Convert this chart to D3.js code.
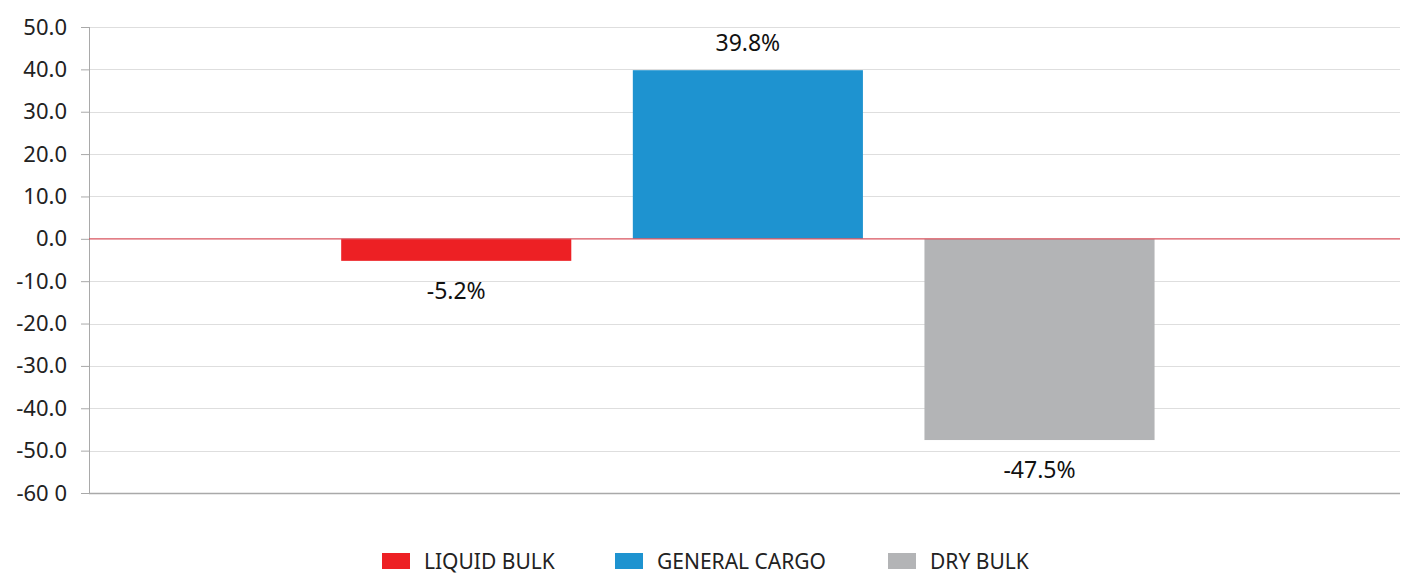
<!DOCTYPE html>
<html>
<head>
<meta charset="utf-8">
<script src="https://cdn.jsdelivr.net/npm/d3@7"></script>
<style>
	body { margin: 0; background: #fff; font-family: "Noto Sans", sans-serif; }
	svg { display: block; }
</style>
</head>
<body>
<div id="chart"></div>
<script>
	// Data
	var series = ["LIQUID BULK", "GENERAL CARGO", "DRY BULK"];
	var values = [-5.2, 39.8, -47.5];
	var colors = ["#ED2024", "#1E93D0", "#B3B4B6"];
	var tickValues = [50, 40, 30, 20, 10, 0, -10, -20, -30, -40, -50, -60];
	var tickLabels = ["50.0", "40.0", "30.0", "20.0", "10.0", "0.0", "-10.0", "-20.0", "-30.0", "-40.0", "-50.0", "-60 0"];

	var width = 1402,
			height = 574,
			margin = {top: 27, right: 2, bottom: 81, left: 89};

	var innerW = width - margin.left - margin.right,
			innerH = height - margin.top - margin.bottom;

	var svg = d3.select("#chart").append("svg")
			.attr("width", width)
			.attr("height", height);

	var g = svg.append("g")
			.attr("transform", "translate(" + margin.left + "," + margin.top + ")");

	// Scales
	var y = d3.scaleLinear()
			.domain([-60, 50])
			.range([innerH, 0]);

	var x0 = d3.scaleBand()
			.domain([""])
			.range([0, innerW])
			.paddingInner(0)
			.paddingOuter(0.2)
			.align(0.509);

	var x1 = d3.scaleBand()
			.domain(series)
			.range([0, x0.bandwidth()])
			.padding(0.211);

	// Gridlines
	g.append("g")
		.selectAll("line")
		.data(tickValues.filter(function(d) { return d !== 0 && d !== -60; }))
		.enter().append("line")
			.attr("x1", 0)
			.attr("x2", innerW)
			.attr("y1", function(d) { return Math.round(y(d)) + 0.5; })
			.attr("y2", function(d) { return Math.round(y(d)) + 0.5; })
			.style("stroke", "#DEDEDE")
			.style("stroke-width", 1);

	// Y axis
	var yAxis = d3.axisLeft(y)
			.tickValues(tickValues)
			.tickSize(8)
			.tickPadding(14)
			.tickFormat(function(d, i) { return tickLabels[i]; });

	var yg = g.append("g").call(yAxis);
	yg.select(".domain").style("stroke", "#A9A9A9").attr("d", "M0.5," + innerH + "V0");
	yg.selectAll(".tick line").style("stroke", "#A9A9A9");
	yg.selectAll(".tick text")
			.style("font-family", "'Noto Sans', sans-serif")
			.style("font-size", "22px")
			.style("fill", "#222");

	// Bottom axis line
	g.append("line")
			.attr("x1", 0)
			.attr("x2", innerW)
			.attr("y1", Math.round(y(-60)) + 0.5)
			.attr("y2", Math.round(y(-60)) + 0.5)
			.style("stroke", "#A9A9A9")
			.style("stroke-width", 1.5);

	// Bars
	var bars = g.append("g").attr("transform", "translate(" + x0("") + ",0)");

	bars.selectAll("rect")
		.data(values)
		.enter().append("rect")
			.attr("x", function(d, i) { return x1(series[i]); })
			.attr("width", x1.bandwidth())
			.attr("y", function(d) { return y(Math.max(0, d)); })
			.attr("height", function(d) { return Math.abs(y(d) - y(0)); })
			.style("fill", function(d, i) { return colors[i]; });

	// Value labels
	bars.selectAll(".value-label")
		.data(values)
		.enter().append("text")
			.attr("class", "value-label")
			.attr("x", function(d, i) { return x1(series[i]) + x1.bandwidth() / 2; })
			.attr("y", function(d) { return d >= 0 ? y(d) - 19 : y(d) + 38; })
			.style("text-anchor", "middle")
			.style("font-size", "23px")
			.style("fill", "#111")
			.text(function(d) { return d.toFixed(1) + "%"; });

	// Zero line
	g.append("line")
			.attr("x1", 0)
			.attr("x2", innerW)
			.attr("y1", y(0))
			.attr("y2", y(0))
			.style("stroke", "#D9535E")
			.style("stroke-width", 1.2);

	// Legend
	var legendX = [382, 615, 888];
	var legend = svg.append("g").attr("transform", "translate(0,553)");

	var item = legend.selectAll(".legend-item")
		.data(series)
		.enter().append("g")
			.attr("class", "legend-item")
			.attr("transform", function(d, i) { return "translate(" + legendX[i] + ",0)"; });

	item.append("rect")
			.attr("width", 28)
			.attr("height", 16)
			.style("fill", function(d, i) { return colors[i]; });

	item.append("text")
			.attr("x", 42)
			.attr("y", 16)
			.style("font-size", "21px")
			.style("fill", "#222")
			.text(function(d) { return d; });
</script>
</body>
</html>
